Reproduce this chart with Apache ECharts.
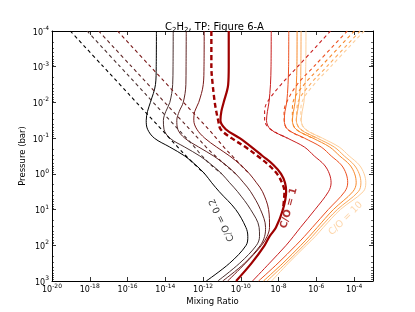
<!DOCTYPE html>
<html><head><meta charset="utf-8">
<script src="https://cdn.jsdelivr.net/npm/echarts@6/dist/echarts.min.js"></script>
<style>html,body{margin:0;padding:0;background:#fff}#c{width:415px;height:312px}</style>
</head><body><div id="c"></div>
<script>
// log10 of pressure (bar) at which each curve is sampled
const logPressure = [-4, -3, -2.5, -2, -1.75, -1.5, -1.25, -1, -0.75, -0.5, -0.25, 0, 0.25, 0.5, 1, 1.5, 1.75, 2, 2.5, 3];

// log10 of C2H2 mixing ratio, solid curves (C/O = 0.2 ... C/O = 10)
const solid1  = [-14.47, -14.48, -14.52, -14.79, -14.94, -15.01, -14.94, -14.58, -13.76, -12.97, -12.39, -11.91, -11.54, -11.14, -10.27, -9.73, -9.63, -9.72, -10.59, -11.83];
const solid2  = [-13.58, -13.59, -13.61, -13.76, -13.97, -14.10, -14.07, -13.76, -12.97, -12.17, -11.54, -11.01, -10.59, -10.17, -9.48, -9.03, -9.01, -9.17, -10.06, -11.22];
const solid3  = [-12.89, -12.90, -12.91, -13.05, -13.26, -13.39, -13.34, -12.97, -12.23, -11.44, -10.80, -10.27, -9.85, -9.48, -8.96, -8.69, -8.74, -8.96, -9.80, -10.96];
const solid4  = [-11.94, -11.95, -11.99, -12.23, -12.44, -12.49, -12.33, -11.91, -11.28, -10.59, -10.01, -9.54, -9.17, -8.85, -8.53, -8.48, -8.61, -8.90, -9.75, -10.70];
const solid5  = [-10.64, -10.64, -10.67, -10.91, -11.03, -11.08, -10.80, -10.06, -9.43, -8.85, -8.27, -7.87, -7.66, -7.60, -7.77, -8.14, -8.48, -8.74, -9.43, -10.25];
const solid6  = [-8.39, -8.40, -8.43, -8.51, -8.59, -8.64, -8.43, -7.53, -6.63, -6.11, -5.58, -5.31, -5.22, -5.36, -6.07, -6.84, -7.21, -7.60, -8.48, -9.38];
const solid7  = [-7.46, -7.47, -7.50, -7.57, -7.66, -7.70, -7.53, -6.63, -5.74, -5.21, -4.68, -4.42, -4.34, -4.50, -5.37, -6.21, -6.63, -7.08, -8.03, -9.06];
const solid8  = [-7.02, -7.03, -7.06, -7.13, -7.21, -7.27, -7.08, -6.18, -5.29, -4.76, -4.23, -3.97, -3.89, -4.07, -5.10, -5.95, -6.37, -6.82, -7.77, -8.80];
const solid9  = [-6.81, -6.82, -6.84, -6.92, -7.00, -7.06, -6.84, -5.95, -5.05, -4.52, -4.00, -3.73, -3.64, -3.78, -4.89, -5.79, -6.21, -6.66, -7.61, -8.61];
const solid10 = [-6.55, -6.56, -6.59, -6.66, -6.75, -6.80, -6.58, -5.68, -4.79, -4.26, -3.73, -3.47, -3.38, -3.52, -4.73, -5.63, -6.05, -6.53, -7.48, -8.37];

// log10 mixing ratio, dashed curves (sampled on the first levels of logPressure)
const dashed1  = [-19.03, -17.28, -16.40, -15.53, -15.09, -14.65, -14.21, -13.78, -13.34, -12.90, -12.42, -11.91];
const dashed2  = [-18.14, -16.39, -15.51, -14.64, -14.20, -13.76, -13.32, -12.88, -12.45, -12.05, -11.58, -11.01];
const dashed3  = [-17.53, -15.78, -14.90, -14.03, -13.59, -13.15, -12.71, -12.27, -11.84, -11.35, -10.82, -10.27];
const dashed4  = [-16.53, -14.78, -13.90, -13.03, -12.59, -12.15, -11.71, -11.30, -10.90, -10.45, -10.01, -9.54];
const dashed5  = [-11.56, -11.56, -11.49, -11.38, -11.30, -11.20, -11.07, -10.49, -9.75, -9.11, -8.53, -8.08, -7.82, -7.69, -7.77];
const dashed6  = [-5.25, -6.99, -7.87, -8.61, -8.74, -8.74, -8.43, -7.53];
const dashed7  = [-4.36, -6.14, -7.02, -7.58, -7.71, -7.70, -7.53, -6.63];
const dashed8  = [-3.99, -5.77, -6.65, -7.24, -7.27, -7.27, -7.08, -6.18];
const dashed9  = [-3.68, -5.45, -6.34, -6.98, -7.03, -7.06, -6.84, -5.95];
const dashed10 = [-3.47, -5.24, -6.13, -6.77, -6.82, -6.82, -6.58, -5.68];

const curveColors = ['#000000', '#4a3030', '#5e2424', '#781818', '#9e0000', '#c81e1e', '#ec5020', '#f7882a', '#faa85a', '#fdcf9c'];
const thickCurve = 4; // index of C/O = 1

const coLabelText  = ['C/O = 0.2', 'C/O = 1', 'C/O = 10'];
const coLabelX     = [-11.01, -7.45, -4.45];
const coLabelP     = [1.29, 0.96, 1.25];
const coLabelAngle = [116, 75, 45];
const coLabelColor = ['#000000', '#9e0000', '#fdcb94'];
const coLabelBold  = [false, true, false];

const FONT = 'DejaVu Sans';
const solids = [solid1, solid2, solid3, solid4, solid5, solid6, solid7, solid8, solid9, solid10];
const dasheds = [dashed1, dashed2, dashed3, dashed4, dashed5, dashed6, dashed7, dashed8, dashed9, dashed10];
const pairs = xs => xs.map((x, i) => [x, logPressure[i]]);

const series = [];
solids.forEach((s, i) => {
  const thick = i === thickCurve;
  series.push({ type: 'line', data: pairs(s), showSymbol: false, smooth: 0.35, z: 2,
    lineStyle: { color: curveColors[i], width: thick ? 2.2 : 1 } });
  series.push({ type: 'line', data: pairs(dasheds[i]), showSymbol: false, smooth: 0.35, z: 3,
    lineStyle: { color: curveColors[i], width: thick ? 2.4 : 1.1, type: thick ? [5, 3] : [3.5, 3] } });
});
series.push({ type: 'scatter', symbolSize: 1, z: 5, itemStyle: { color: 'rgba(0,0,0,0)' },
  data: coLabelText.map((t, i) => ({ value: [coLabelX[i], coLabelP[i]], name: t,
    label: { show: true, position: 'inside', formatter: t, rotate: coLabelAngle[i], color: coLabelColor[i],
      fontSize: coLabelBold[i] ? 10 : 9.5, fontWeight: coLabelBold[i] ? 'bold' : 'normal', fontFamily: FONT } })) });

const minorY = [];
for (let n = -4; n < 3; n++) for (let k = 2; k <= 9; k++) minorY.push(n + Math.log10(k));

const supRich = { b: { fontSize: 8, fontFamily: FONT, color: '#000', verticalAlign: 'bottom', lineHeight: 11 },
                  s: { fontSize: 6, fontFamily: FONT, color: '#000', verticalAlign: 'top', lineHeight: 11 } };
const fmt = v => '{b|10}{s|' + v + '}';
const tick = { show: true, inside: true, length: 4, lineStyle: { color: '#000', width: 0.8 } };
const line = { show: true, onZero: false, lineStyle: { color: '#000', width: 1 } };

const xBase = { type: 'value', min: -20, max: -3, interval: 2, splitLine: { show: false } };
const yBase = { type: 'value', min: -4, max: 3, interval: 1, inverse: true, splitLine: { show: false } };

const option = {
  animation: false,
  backgroundColor: '#fff',
  title: { text: '{n|C}{s|2}{n|H}{s|2}{n|, TP: Figure 6-A}', left: 160, top: 17,
    textStyle: { fontWeight: 'normal', rich: {
      n: { fontSize: 10, fontFamily: FONT, fontWeight: 'normal', color: '#000', verticalAlign: 'top', lineHeight: 12 },
      s: { fontSize: 7, fontFamily: FONT, fontWeight: 'normal', color: '#000', verticalAlign: 'bottom', lineHeight: 12 } } } },
  grid: { left: 52, right: 42, top: 31, bottom: 31, containLabel: false },
  xAxis: [
    Object.assign({}, xBase, { position: 'bottom', axisLine: line, axisTick: tick,
      name: 'Mixing Ratio', nameLocation: 'middle', nameGap: 16, nameMoveOverlap: false,
      nameTextStyle: { fontSize: 8.5, fontFamily: FONT, color: '#000' },
      axisLabel: { show: true, margin: 2, formatter: fmt, rich: supRich, showMaxLabel: false } }),
    Object.assign({}, xBase, { position: 'top', axisLine: line, axisTick: tick, axisLabel: { show: false } })
  ],
  yAxis: [
    Object.assign({}, yBase, { position: 'left', axisLine: line, axisTick: tick,
      name: 'Pressure (bar)', nameLocation: 'middle', nameGap: 25, nameMoveOverlap: false,
      nameTextStyle: { fontSize: 8.5, fontFamily: FONT, color: '#000' },
      axisLabel: { show: true, margin: 3, formatter: fmt, rich: supRich } }),
    Object.assign({}, yBase, { position: 'right', axisLine: line, axisTick: tick, axisLabel: { show: false } }),
    Object.assign({}, yBase, { position: 'left', axisLine: { show: false }, axisLabel: { show: false },
      axisTick: { show: true, inside: true, length: 2, customValues: minorY, lineStyle: { color: '#000', width: 0.6 } } }),
    Object.assign({}, yBase, { position: 'right', axisLine: { show: false }, axisLabel: { show: false },
      axisTick: { show: true, inside: true, length: 2, customValues: minorY, lineStyle: { color: '#000', width: 0.6 } } })
  ],
  series: series
};
const chart = echarts.init(document.getElementById('c'), null, { renderer: 'canvas' });
chart.setOption(option);
</script>
</body></html>
